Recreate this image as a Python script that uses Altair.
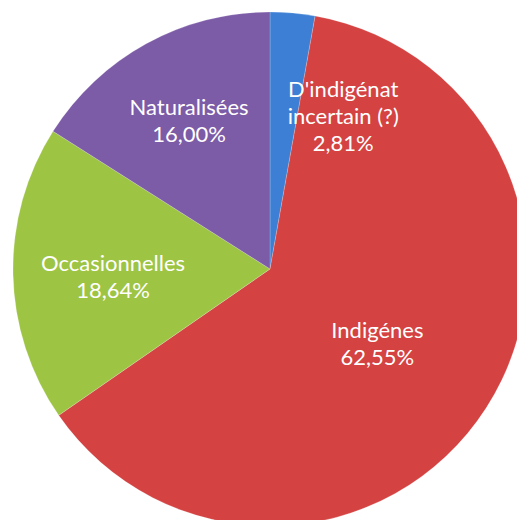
import altair as alt
import pandas as pd

categories = ["D'indigénat incertain (?)", "Indigénes", "Occasionnelles", "Naturalisées"]
labels = ["D'indigénat\nincertain (?)\n2,81%", "Indigénes\n62,55%", "Occasionnelles\n18,64%", "Naturalisées\n16,00%"]
values = [2.81, 62.55, 18.64, 16.00]
colors = ["#3D7FD4", "#D44242", "#9DC443", "#7C5BA7"]

df = pd.DataFrame({"cat": categories, "label": labels, "val": values, "idx": list(range(len(values)))})

CX, CY, R = 262, 261, 257

base = alt.Chart(df).encode(
    theta=alt.Theta("val:Q", stack=True),
    order=alt.Order("idx:Q"),
    x=alt.value(CX),
    y=alt.value(CY),
)

pie = base.mark_arc(stroke="#ffffff", strokeWidth=0.5, strokeOpacity=0.4).encode(
    color=alt.Color("cat:N", scale=alt.Scale(domain=categories, range=colors), legend=None),
    radius=alt.value(R),
)

label_pos = {  # category: (radius, dx, dy)
    categories[0]: (150, 60, -30),
    categories[1]: (130, -2, -8),
    categories[2]: (157, 0, -8),
    categories[3]: (168, 0, -14),
}

layers = [pie]
for c, (r, dx, dy) in label_pos.items():
    layers.append(
        base.mark_text(
            font="Lato", fontSize=22, color="white", lineBreak="\n", lineHeight=27,
            align="center", baseline="middle", dx=dx, dy=dy,
        ).encode(
            radius=alt.value(r),
            text=alt.condition(alt.datum.cat == c, alt.Text("label:N"), alt.value("")),
        )
    )

chart = alt.layer(*layers).properties(
    width=509, height=512, padding=0, autosize=alt.AutoSizeParams(type="none")
).configure_view(stroke=None)

chart.save("out.html", embed_options={"renderer": "svg", "actions": False})
